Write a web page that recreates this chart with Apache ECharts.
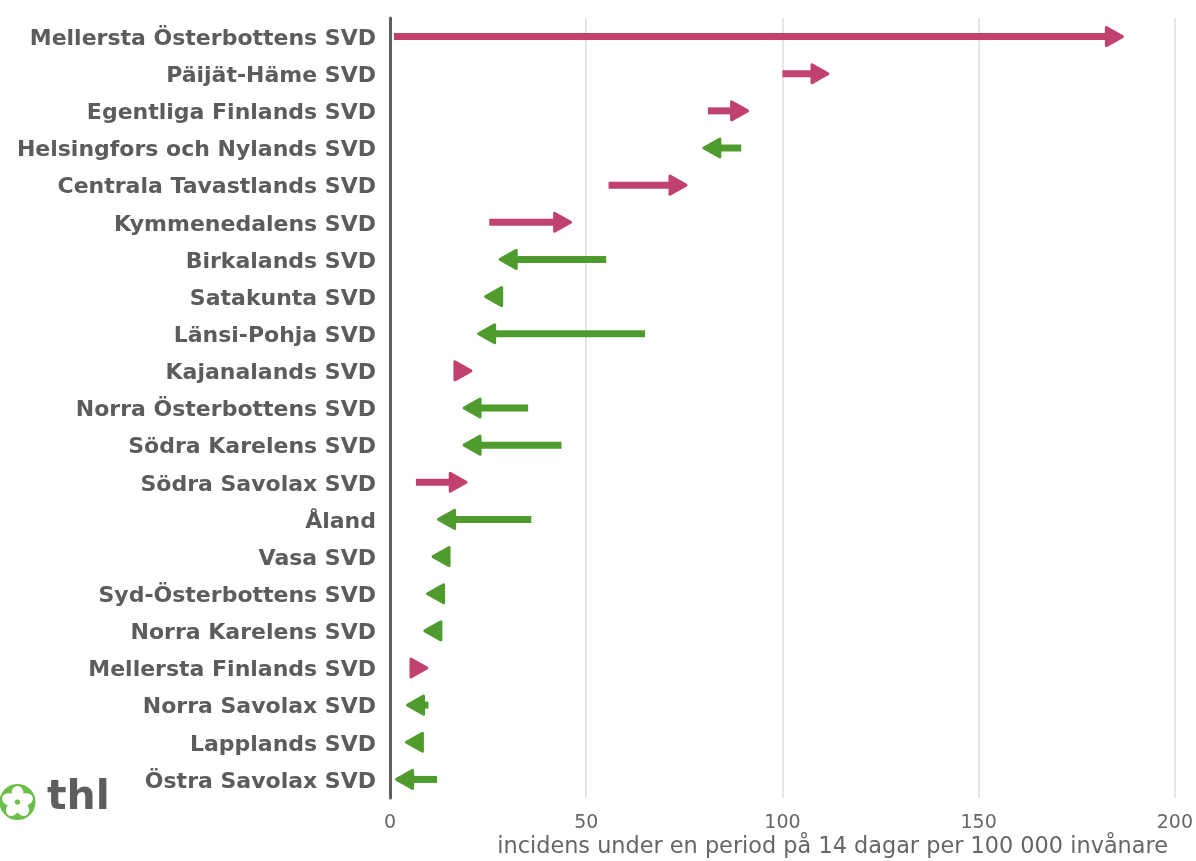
<!DOCTYPE html>
<html>
<head>
<meta charset="utf-8">
<script src="https://cdn.jsdelivr.net/npm/echarts@6/dist/echarts.min.js"></script>
<style>html,body{margin:0;padding:0;background:#fff}#c{width:1196px;height:861px}</style>
</head>
<body>
<div id="c"></div>
<script>
const regions = ["Mellersta Österbottens SVD","Päijät-Häme SVD","Egentliga Finlands SVD","Helsingfors och Nylands SVD","Centrala Tavastlands SVD","Kymmenedalens SVD","Birkalands SVD","Satakunta SVD","Länsi-Pohja SVD","Kajanalands SVD","Norra Österbottens SVD","Södra Karelens SVD","Södra Savolax SVD","Åland","Vasa SVD","Syd-Österbottens SVD","Norra Karelens SVD","Mellersta Finlands SVD","Norra Savolax SVD","Lapplands SVD","Östra Savolax SVD"];
const previousPeriod = [1, 100, 81, 89.5, 55.7, 25.3, 55.1, 27.5, 65, 17, 35.2, 43.7, 6.6, 36, 14.5, 13, 12.5, 5.3, 9.8, 7.5, 12];
const currentPeriod = [187, 112, 91.5, 79.6, 75.8, 46.4, 27.7, 24, 22.2, 21, 18.5, 18.5, 19.8, 12, 10.6, 9.2, 8.5, 9.8, 4.1, 3.8, 1.3];
const xTicks = [0, 50, 100, 150, 200];
const axisTitle = "incidens under en period på 14 dagar per 100 000 invånare";

const UP = "#C1416F", DOWN = "#509B2E";
const data = regions.map((r, i) => [previousPeriod[i], i, currentPeriod[i]]);

const chart = echarts.init(document.getElementById('c'));

function petals() {
  const cx = 17.5, cy = 802, out = [];
  out.push({type:'circle', shape:{cx, cy, r:18}, style:{fill:'#6BBE48'}});
  for (let k = 0; k < 5; k++) {
    const a = -Math.PI/2 + k * 2 * Math.PI / 5;
    const d = 8.5;
    const px = cx + d*Math.cos(a), py = cy + d*Math.sin(a);
    out.push({type:'ellipse', shape:{cx: px, cy: py, rx:6, ry:7.5},
      rotation: -(a + Math.PI/2), originX: px, originY: py,
      style:{fill:'#fff'}});
  }
  out.push({type:'circle', shape:{cx, cy, r:2.6}, style:{fill:'#6BBE48'}});
  return out;
}

chart.setOption({
  animation: false,
  grid: {left: 390, right: 20, top: 18, bottom: 63, containLabel: false},
  xAxis: {
    type: 'value', min: xTicks[0], max: xTicks[xTicks.length-1], interval: 50,
    axisLine: {show: false}, axisTick: {show: false},
    splitLine: {show: true, lineStyle: {color: '#dedede', width: 1.5}},
    axisLabel: {color: '#666', fontSize: 19, fontFamily: 'DejaVu Sans', margin: 16,
      formatter: v => xTicks.includes(v) ? String(v) : ''}
  },
  yAxis: {
    type: 'category', data: regions, inverse: true, offset: 2,
    axisLine: {show: true, lineStyle: {color: '#606060', width: 3}},
    axisTick: {show: false},
    axisLabel: {margin: 12,
      formatter: v => '{a|' + v + '}',
      rich: {a: {color: '#5c5c5c', fontSize: 22, fontWeight: 'bold', fontFamily: 'DejaVu Sans', padding: [5, 0, 0, 0]}}}
  },
  graphic: [
    {type:'text', right: 28, top: 836, style:{text: axisTitle, fill:'#666', fontSize: 22.4, fontFamily:'DejaVu Sans', textAlign:'right'}},
    {type:'text', left: 47, top: 778, style:{text:'thl', fill:'#5e5e5e', fontSize: 41, fontWeight:'bold', fontFamily:'DejaVu Sans'}},
    {type:'group', children: petals()}
  ],
  series: [{
    type: 'custom',
    encode: {x: [0, 2], y: 1},
    data: data,
    renderItem: function (params, api) {
      const s = api.value(0), idx = api.value(1), e = api.value(2);
      const p1 = api.coord([s, idx]), p2 = api.coord([e, idx]);
      const dir = e >= s ? 1 : -1;
      const color = e >= s ? UP : DOWN;
      const headLen = 16, half = 9;
      const tipX = p2[0] - dir * 1.5;
      const baseX = tipX - dir * headLen;
      const y = p2[1];
      const children = [];
      if ((baseX - p1[0]) * dir > 0) {
        children.push({type:'line', shape:{x1:p1[0], y1:y, x2:baseX + dir*2, y2:y},
          style:{stroke: color, lineWidth: 7, lineCap: 'butt'}});
      }
      children.push({type:'polygon', shape:{points:[[tipX, y],[baseX, y-half],[baseX, y+half]]},
        style:{fill: color, stroke: color, lineWidth: 3, lineJoin: 'round'}});
      return {type:'group', children};
    }
  }]
});
</script>
</body>
</html>
